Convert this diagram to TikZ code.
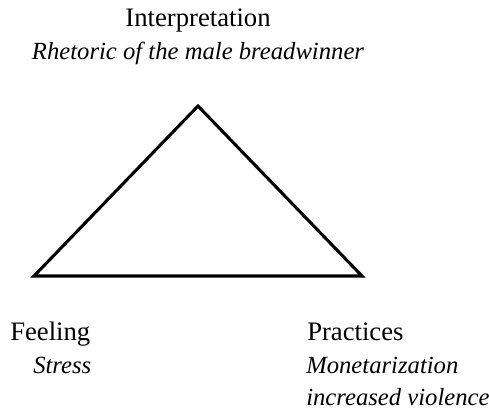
\documentclass[tikz,border=0pt]{standalone}
\usepackage{fontspec}
\setmainfont{Liberation Serif}
\begin{document}
\begin{tikzpicture}[x=0.75pt,y=-0.75pt,
  lbl/.style={inner sep=0pt,font=\fontsize{20}{24}\selectfont},
  ilbl/.style={inner sep=0pt,font=\fontsize{18.5}{22}\selectfont\itshape},
  tri/.style={line width=2.3pt,line join=miter}]
\useasboundingbox (0,0) rectangle (489,411);
\coordinate (top) at (198,106);
\coordinate (left) at (34,276);
\coordinate (right) at (362,276);
\draw[tri] (top) -- (right) -- (left) -- cycle;
\node[lbl,anchor=base] (interp) at (198,26) {Interpretation};
\node[ilbl,anchor=base] (rhet) at (198,59) {Rhetoric of the male breadwinner};
\node[lbl,anchor=base west] (feel) at (10,340) {Feeling};
\node[ilbl,anchor=base west] (stress) at (33,373) {Stress};
\node[lbl,anchor=base west] (prac) at (307,340) {Practices};
\node[ilbl,anchor=base west] (monet) at (306,373) {Monetarization};
\node[ilbl,anchor=base west] (viol) at (306,405) {increased violence};
\end{tikzpicture}
\end{document}
